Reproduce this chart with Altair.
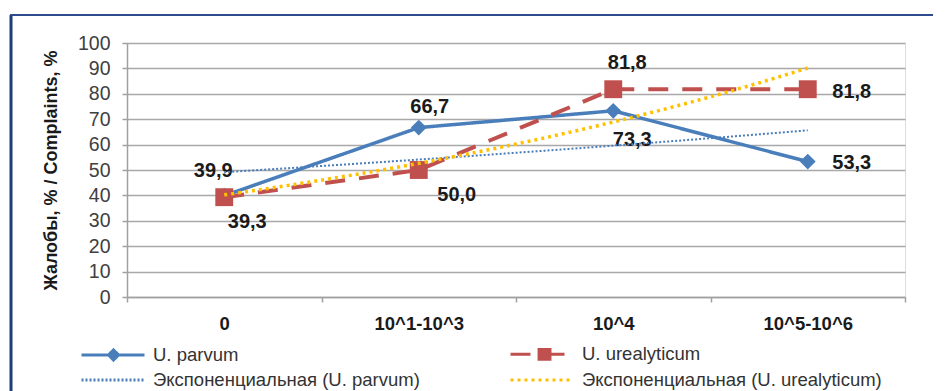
import altair as alt
import pandas as pd

categories = ["0", "10^1-10^3", "10^4", "10^5-10^6"]
parvum = [39.9, 66.7, 73.3, 53.3]
urealyticum = [39.3, 50.0, 81.8, 81.8]
series_names = ["U. parvum", "U. urealyticum"]
trend_names = ["Экспоненциальная (U. parvum)", "Экспоненциальная (U. urealyticum)"]
y_ticks = list(range(0, 101, 10))
y_title = "Жалобы, % / Complaints, %"

rows = []
for name, vals in zip(series_names, [parvum, urealyticum]):
    for i, (c, v) in enumerate(zip(categories, vals)):
        rows.append({"series": name, "category": c, "idx": i + 1, "value": v})
df = pd.DataFrame(rows)

legend_domain = series_names + trend_names
colors = ["#4a7ebb", "#c0504d", "#4a7ebb", "#ffc000"]
dashes = [[1, 0], [20, 14], [2, 2], [3, 4]]

# legend symbols: a line, with a marker drawn on the two data series' entries
LINE = "M-1,0L5,0"
DIAMOND = LINE + "M1.57,0L2.05,-0.48L2.53,0L2.05,0.48ZM2.05,-0.3L2.05,0.3"
SQUARE = LINE + "".join(f"M{u:.2f},-0.6L{u:.2f},0.6" for u in (1.72, 1.98, 2.24, 2.5, 2.76))
legend_shapes = [DIAMOND, SQUARE, LINE, LINE]

FONT = "Liberation Sans"

legend = alt.Legend(
    title=None, orient="none", legendX=-47, legendY=299, columns=2,
    columnPadding=84, rowPadding=1, padding=0,
    symbolSize=441, symbolStrokeWidth=3, labelFontSize=18.5,
    labelColor="#333333", labelLimit=600, labelOffset=49, direction="horizontal",
    labelFont=FONT,
)
color_enc = alt.Color("series:N", scale=alt.Scale(domain=legend_domain, range=colors), legend=legend)
dash_enc = alt.StrokeDash("series:N", scale=alt.Scale(domain=legend_domain, range=dashes), legend=legend)
shape_enc = alt.Shape("series:N", scale=alt.Scale(domain=legend_domain, range=legend_shapes), legend=legend)

x_band = alt.X(
    "category:N", sort=categories,
    scale=alt.Scale(type="band", domain=categories, paddingInner=0, paddingOuter=0),
    axis=alt.Axis(
        title=None, labelAngle=0, tickBand="extent", ticks=True, tickSize=5,
        tickColor="#a0a0a0", domainColor="#a0a0a0", domainWidth=1.5, tickWidth=1.5,
        grid=False, labelFontSize=18.5, labelFontWeight="bold", labelColor="#1a1a1a",
        labelPadding=12, labelFont=FONT,
    ),
)
y_enc = alt.Y(
    "value:Q", scale=alt.Scale(domain=[0, 100], nice=False),
    axis=alt.Axis(
        values=y_ticks, title=y_title, grid=True, gridColor="#a8a8a8", gridWidth=1.5,
        domainColor="#a0a0a0", domainWidth=1.5, tickColor="#a0a0a0", tickWidth=1.5,
        tickSize=5, labelFontSize=19.5, labelColor="#404040", labelPadding=12,
        labelFont=FONT, titleFont=FONT, titleFontSize=18, titleFontWeight="bold",
        titleColor="#1a1a1a", titleX=-76, titleY=127, titleBaseline="middle",
        titleAngle=270,
    ),
)

base = alt.Chart(df)

def line_layer(name, width):
    return base.transform_filter(alt.datum.series == name).mark_line(strokeWidth=width).encode(
        x=x_band, y=y_enc, color=color_enc, strokeDash=dash_enc
    )

def point_layer(name, shape, size, color):
    return base.transform_filter(alt.datum.series == name).mark_point(
        shape=shape, filled=True, size=size, color=color, opacity=1
    ).encode(x=x_band, y=y_enc)

def trend_layer(name, trend, width):
    # exponential trend: least squares on log(value), like a spreadsheet trendline
    return base.transform_filter(alt.datum.series == name).transform_calculate(
        logv="log(datum.value)"
    ).transform_regression(
        "idx", "logv", method="poly", order=1, extent=[1, 4]
    ).transform_calculate(
        value="exp(datum.logv)", series="'" + trend + "'"
    ).mark_line(strokeWidth=width).encode(
        x=alt.X("idx:Q", scale=alt.Scale(domain=[0.5, 4.5], nice=False, zero=False), axis=None),
        y=y_enc, color=color_enc, strokeDash=dash_enc,
    )

def label_layer(name, idx, dx, dy):
    return base.transform_filter(
        (alt.datum.series == name) & (alt.datum.idx == idx)
    ).transform_calculate(
        label="replace(format(datum.value, '.1f'), '.', ',')"
    ).mark_text(
        fontSize=20, fontWeight="bold", color="#1a1a1a", font=FONT, dx=dx, dy=dy,
        align="center", baseline="middle",
    ).encode(x=x_band, y=y_enc, text="label:N")

# empty layer: only feeds the legend with marker shapes (no rows are drawn)
legend_shape_layer = base.transform_filter("datum.idx > 100").mark_point(
    filled=False, opacity=1, strokeWidth=3
).encode(x=x_band, y=y_enc, color=color_enc, strokeDash=dash_enc, shape=shape_enc)

frame_df = pd.DataFrame({"k": [0]})
left_rule = alt.Chart(frame_df).mark_rule(color="#1f3d7a", strokeWidth=3).encode(
    x=alt.value(-116), y=alt.value(-28), y2=alt.value(362)
)
top_rule = alt.Chart(frame_df).mark_rule(color="#2e4a8a", strokeWidth=2).encode(
    x=alt.value(-117), x2=alt.value(806), y=alt.value(-28)
)

band_layers = alt.layer(
    line_layer("U. parvum", 3.5),
    point_layer("U. parvum", "diamond", 250, "#4a7ebb"),
    line_layer("U. urealyticum", 4),
    point_layer("U. urealyticum", "square", 320, "#c0504d"),
    legend_shape_layer,
    label_layer("U. parvum", 1, -11, -25),
    label_layer("U. parvum", 2, 11, -21),
    label_layer("U. parvum", 3, 19, 29),
    label_layer("U. parvum", 4, 44, 1),
    label_layer("U. urealyticum", 1, 23, 25),
    label_layer("U. urealyticum", 2, 38, 25),
    label_layer("U. urealyticum", 3, 14, -26),
    label_layer("U. urealyticum", 4, 44, 3),
)

chart = alt.layer(
    band_layers,
    trend_layer("U. parvum", trend_names[0], 2),
    trend_layer("U. urealyticum", trend_names[1], 3.5),
    left_rule,
    top_rule,
).resolve_scale(x="independent").properties(
    width=778, height=254,
    autosize=alt.AutoSizeParams(type="none"),
    padding={"left": 119, "top": 35, "right": 28, "bottom": 100},
).configure_view(stroke=None).configure(font=FONT, background="white")

chart.save("out.html", embed_options={"renderer": "svg", "actions": False})
